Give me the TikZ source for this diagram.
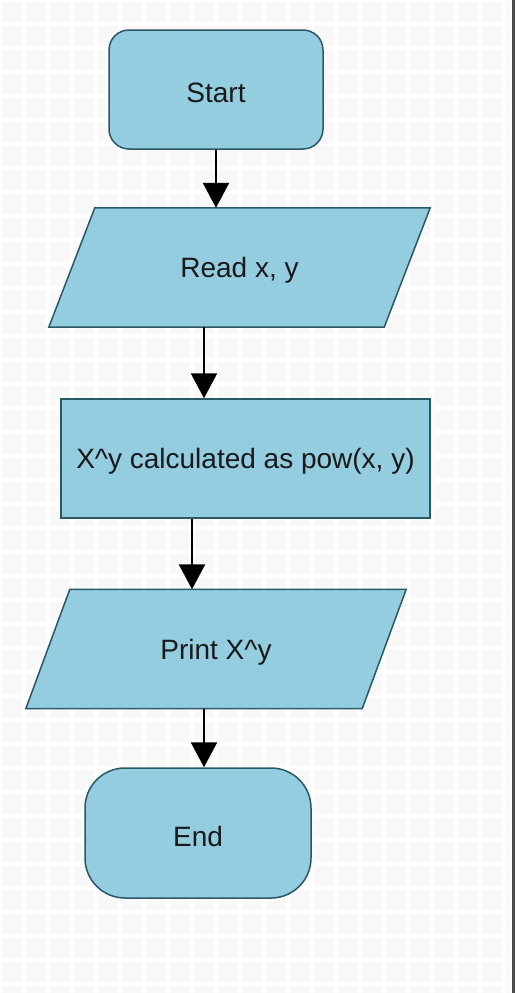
\documentclass[tikz,border=0pt]{standalone}
\usepackage{fontspec}
\setmainfont{Liberation Sans}
\usetikzlibrary{calc,arrows.meta}
\definecolor{boxfill}{HTML}{93CDDF}
\definecolor{boxline}{HTML}{2B5866}
\definecolor{gridsq}{HTML}{F8F8F8}
\tikzset{
  txt/.style={font=\fontsize{28}{32}\selectfont, text=black!90, yshift=-3pt},
  boxbase/.style={draw=boxline, fill=boxfill, line width=1.5pt, inner sep=0pt},
  termbox/.style={boxbase, rectangle, minimum width=#1},
  procbox/.style={boxbase, rectangle, minimum width=369pt, minimum height=119pt},
  iobox/.style={rectangle, inner sep=0pt, minimum width=#1, minimum height=119pt},
  ioshape/.style={draw=boxline, fill=boxfill, line width=1.5pt},
  flowarrow/.style={line width=2.4pt, -{Triangle[width=26pt,length=25pt]}}
}
\begin{document}
\begin{tikzpicture}[x=1pt,y=-1pt]
\useasboundingbox (0,0) rectangle (519,993);
\fill[gridsq] (0,0) rectangle (510,993);
\draw[white, line width=4pt, step=24pt] (0,0) grid (510,-993);
\draw[white, line width=4pt, step=24pt] (0,0) grid (510,993);
\draw[black!70, line width=3pt] (513.5,0) -- (513.5,993);

\node[termbox=214pt, minimum height=119pt, rounded corners=20pt] (start) at (216,89.5) {};
\node[txt] (startt) at (start.center) {Start};

\node[iobox=335pt] (read) at (239.5,267.5) {};
\fill[ioshape] ($(read.north west)+(23pt,0)$) -- ($(read.north east)+(23pt,0)$)
   -- ($(read.south east)+(-23pt,0)$) -- ($(read.south west)+(-23pt,0)$) -- cycle;
\node[txt] (readt) at (read.center) {Read x, y};

\node[procbox] (proc) at (245.5,458.5) {};
\node[txt] (proct) at (proc.center) {X\^{}y calculated as pow(x, y)};

\node[iobox=336pt] (print) at (216,649) {};
\fill[ioshape] ($(print.north west)+(22pt,0)$) -- ($(print.north east)+(22pt,0)$)
   -- ($(print.south east)+(-22pt,0)$) -- ($(print.south west)+(-22pt,0)$) -- cycle;
\node[txt] (printt) at (print.center) {Print X\^{}y};

\node[termbox=226pt, minimum height=130pt, rounded corners=40pt] (end) at (198,833) {};
\node[txt] (endt) at (end.center) {End};

\coordinate (c1) at (216,0);
\coordinate (c2) at (204,0);
\coordinate (c3) at (192,0);
\coordinate (c4) at (204,0);
\draw[flowarrow] (c1 |- start.south) -- (c1 |- read.north);
\draw[flowarrow] (c2 |- read.south) -- (c2 |- proc.north);
\draw[flowarrow] (c3 |- proc.south) -- (c3 |- print.north);
\draw[flowarrow] (c4 |- print.south) -- (c4 |- end.north);
\end{tikzpicture}
\end{document}
